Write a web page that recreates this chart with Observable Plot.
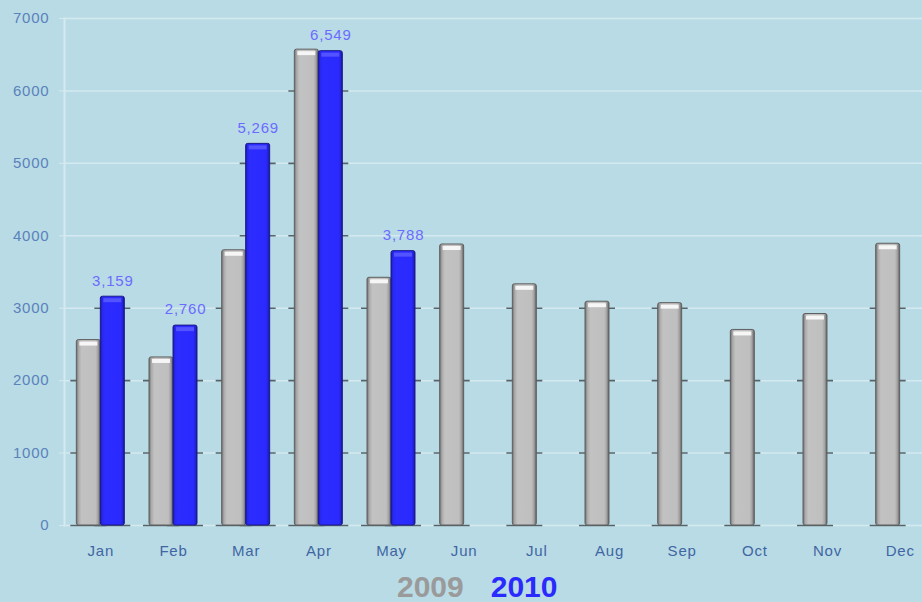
<!DOCTYPE html>
<html><head><meta charset="utf-8">
<script src="https://cdn.jsdelivr.net/npm/d3@7"></script>
<script src="https://cdn.jsdelivr.net/npm/@observablehq/plot@0.6"></script>
<style>
html,body{margin:0;padding:0;background:#b9dbe5;overflow:hidden;width:922px;height:602px}
#chart{height:570px}
#legend{margin-top:4px;padding-left:397px;font:bold 30px "Liberation Sans",Arial,sans-serif;line-height:26px;height:26px;white-space:nowrap}
#legend span{margin-right:27px}
</style></head><body>
<svg width="0" height="0" style="position:absolute"><defs>
<linearGradient id="g2009" x1="0" x2="1" y1="0" y2="0">
 <stop offset="0" stop-color="#707070"/>
 <stop offset="0.1" stop-color="#ababab"/>
 <stop offset="0.22" stop-color="#c2c2c2"/>
 <stop offset="0.8" stop-color="#bfbfbf"/>
 <stop offset="0.9" stop-color="#a4a4a4"/>
 <stop offset="1" stop-color="#606060"/>
</linearGradient>
<linearGradient id="g2010" x1="0" x2="1" y1="0" y2="0">
 <stop offset="0" stop-color="#1818a0"/>
 <stop offset="0.08" stop-color="#2828f0"/>
 <stop offset="0.2" stop-color="#2c2cff"/>
 <stop offset="0.85" stop-color="#2a2aff"/>
 <stop offset="0.94" stop-color="#2222d0"/>
 <stop offset="1" stop-color="#15158a"/>
</linearGradient>
</defs></svg>
<div id="chart"></div>
<div id="legend"><span style="color:#9a9a9a">2009</span><span style="color:#2a2aff">2010</span></div>
<script>
const months = ["Jan","Feb","Mar","Apr","May","Jun","Jul","Aug","Sep","Oct","Nov","Dec"];
const values2009 = [2560, 2320, 3800, 6570, 3420, 3880, 3330, 3090, 3070, 2700, 2920, 3890];
const values2010 = [3159, 2760, 5269, 6549, 3788];
const yTicks = [0, 1000, 2000, 3000, 4000, 5000, 6000, 7000];

const d09 = months.map((m, i) => ({month: m, value: values2009[i]}));
const d10 = values2010.map((v, i) => ({month: months[i], value: v}));
const shadow = (arr) => arr.flatMap(d => yTicks.filter(t => t <= d.value).map(t => ({month: d.month, value: t})));
const s09 = shadow(d09), s10 = shadow(d10);

const plot = Plot.plot({
  width: 922,
  height: 570,
  marginLeft: 64,
  marginRight: 0,
  marginTop: 18,
  marginBottom: 45,
  style: {fontFamily: "'Liberation Sans', Arial, sans-serif", fontSize: "15px", background: "transparent", letterSpacing: "0.8px", overflow: "hidden"},
  x: {domain: months, range: [64, 936], paddingInner: 0.67, paddingOuter: 0.335, round: false, label: null},
  y: {domain: [0, 7000], label: null},
  marks: [
    Plot.gridY(yTicks, {stroke: "#d5eaf0", strokeOpacity: 1, strokeWidth: 1.5}),
    Plot.frame({anchor: "left", stroke: "#d5eaf0", strokeWidth: 2}),
    Plot.axisY({ticks: yTicks, tickSize: 5, tickPadding: 10, stroke: "#d5eaf0", fill: "#5a82bb", tickFormat: "d", label: null}),
    Plot.axisX({tickSize: 0, tickPadding: 20, fill: "#3f66a3", label: null}),
    Plot.tickY(s09, {x: "month", y: "value", dx: -12, stroke: "#56636a", strokeWidth: 1.6, insetLeft: -6, insetRight: -6}),
    Plot.tickY(s10, {x: "month", y: "value", dx: 12, stroke: "#56636a", strokeWidth: 1.6, insetLeft: -6, insetRight: -6}),
    Plot.barY(d09, {x: "month", y: "value", dx: -12, fill: "url(#g2009)", stroke: "#5f5f5f", strokeWidth: 1, rx: 2}),
    Plot.barY(d10, {x: "month", y: "value", dx: 12, fill: "url(#g2010)", stroke: "#1a1a8a", strokeWidth: 1, rx: 2}),
    Plot.tickY(d09, {x: "month", y: "value", dx: -12, dy: 3.5, stroke: "#ffffff", strokeWidth: 4, strokeOpacity: 0.85, insetLeft: 3, insetRight: 3}),
    Plot.tickY(d10, {x: "month", y: "value", dx: 12, dy: 3.5, stroke: "#5a5aff", strokeWidth: 4, strokeOpacity: 0.85, insetLeft: 3, insetRight: 3}),
    Plot.text(d10, {x: "month", y: "value", text: d => d3.format(",")(d.value), dx: 12, dy: -16, fill: "#6b6bff", fontSize: 15})
  ]
});
document.getElementById("chart").appendChild(plot);
</script>
</body></html>
